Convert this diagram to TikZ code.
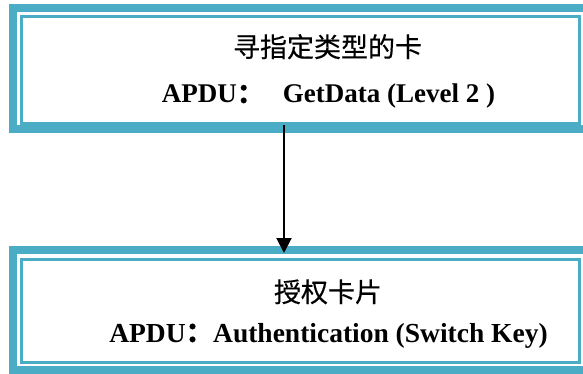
\documentclass[tikz,border=0pt]{standalone}
\usepackage{fontspec}
\setmainfont{Liberation Serif}
\newfontfamily\cjk[FakeBold=0.4]{Noto Sans CJK SC}
\usetikzlibrary{arrows.meta}
\definecolor{frame}{HTML}{4BACC6}
\tikzset{
  outerbox/.style={draw=frame, line width=8pt, minimum width=#1, inner sep=0pt},
  innerbox/.style={draw=frame, line width=3pt, inner sep=0pt},
  label/.style={inner sep=0pt, anchor=base},
  flow/.style={-{Triangle[length=15pt,width=15pt]}, line width=2pt, black}
}
\begin{document}
\begin{tikzpicture}[x=1pt,y=-1pt]
\useasboundingbox (0,0) rectangle (583,374);
\clip (0,0) rectangle (583,374);
% top box
\node[outerbox=577.5pt, minimum height=121pt] (topout) at (301.25,68.5) {};
\node[innerbox, minimum width=558.5pt, minimum height=106.5pt] (topin) at (300.25,70.25) {};
% bottom box
\node[outerbox=577.5pt, minimum height=120pt] (botout) at (301.25,309.5) {};
\node[innerbox, minimum width=558.5pt, minimum height=103.5pt] (botin) at (300.25,310.75) {};
% texts
\node[label] (t1) at (327.5,57) {\cjk\fontsize{27}{27}\selectfont 寻指定类型的卡};
\node[label] (t2) at (328.5,103) {\fontsize{27}{27}\selectfont\bfseries APDU{\cjk ：}\hspace{0.7em}GetData (Level 2 )};
\node[label] (b1) at (328,302) {\cjk\fontsize{27}{27}\selectfont 授权卡片};
\node[label] (b2) at (328.5,342) {\fontsize{27.5}{27.5}\selectfont\bfseries APDU{\cjk ：}Authentication (Switch Key)};
% connector
\coordinate (a1) at (284,125);
\coordinate (a2) at (284,253);
\draw[flow] (a1) -- (a2);
\end{tikzpicture}
\end{document}
